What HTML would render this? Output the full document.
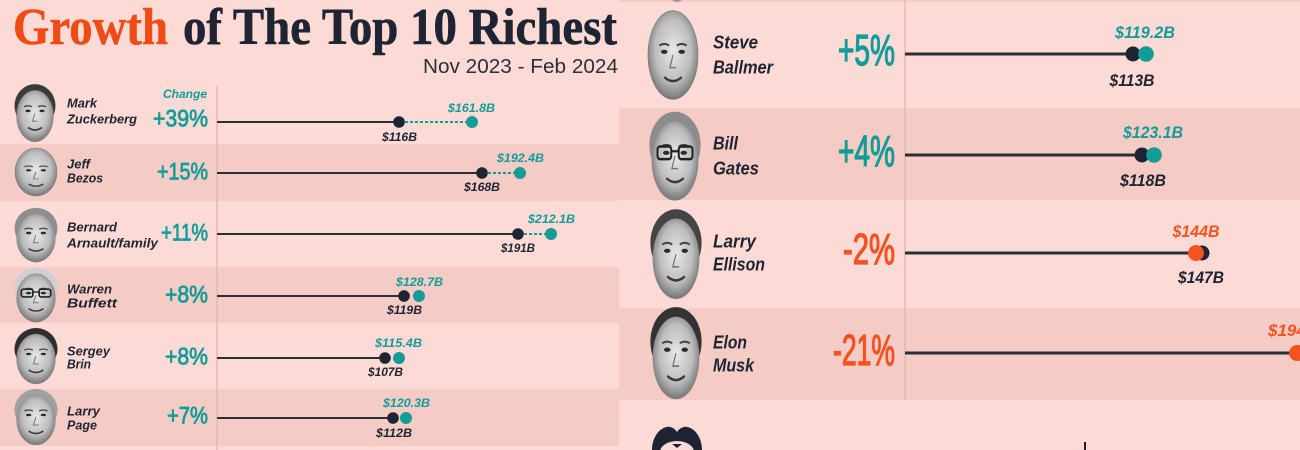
<!DOCTYPE html>
<html>
<head>
<meta charset="utf-8">
<style>
  html,body{margin:0;padding:0;background:#fcdad6;}
  body{width:1300px;height:450px;overflow:hidden;}
  svg{display:block;}
  .nm{font-family:"Liberation Sans",sans-serif;font-weight:bold;font-style:italic;fill:#1e2431;}
  .pc{font-family:"Liberation Sans Narrow","Liberation Sans",sans-serif;font-weight:normal;}
  .vl{font-family:"Liberation Sans",sans-serif;font-weight:bold;font-style:italic;}
</style>
</head>
<body>
<svg width="1300" height="450" viewBox="0 0 1300 450" xmlns="http://www.w3.org/2000/svg">
  <defs>
    <radialGradient id="fg" cx="50%" cy="45%" r="55%">
      <stop offset="0%" stop-color="#e8e8e8"/>
      <stop offset="65%" stop-color="#bdbdbd"/>
      <stop offset="100%" stop-color="#777"/>
    </radialGradient>
    <g id="feat">
      <path d="M-11,-6 Q-7,-8 -3,-6 M3,-6 Q7,-8 11,-6" stroke="#444" stroke-width="1.3" fill="none"/>
      <ellipse cx="-7" cy="-2" rx="2.6" ry="1.3" fill="#2a2a2a"/>
      <ellipse cx="7" cy="-2" rx="2.6" ry="1.3" fill="#2a2a2a"/>
      <path d="M0,0 L-2.5,8 L2.5,8" stroke="#777" stroke-width="1" fill="none"/>
      <path d="M-7,14 Q0,19 7,14" stroke="#3a3a3a" stroke-width="1.6" fill="none"/>
    </g>
    <g id="glasses">
      <rect x="-14" y="-6" width="11" height="8" rx="2" stroke="#222" stroke-width="1.6" fill="none"/>
      <rect x="3" y="-6" width="11" height="8" rx="2" stroke="#222" stroke-width="1.6" fill="none"/>
      <line x1="-3" y1="-3" x2="3" y2="-3" stroke="#222" stroke-width="1.4"/>
    </g>
    <ellipse id="bald" cx="0" cy="0" rx="20" ry="28" fill="url(#fg)" stroke="#777" stroke-width="0.5"/>
    <ellipse id="faceh" cx="0" cy="3" rx="18.5" ry="25" fill="url(#fg)" stroke="#888" stroke-width="0.4"/>
  </defs>

  <!-- ===== LEFT PANEL ===== -->
  <rect x="0" y="0" width="619" height="450" fill="#fcdad6"/>
  <rect x="0" y="144" width="619" height="57" fill="#f5cbc6"/>
  <rect x="0" y="267" width="619" height="56" fill="#f5cbc6"/>
  <rect x="0" y="389" width="619" height="57" fill="#f5cbc6"/>

  <!-- title -->
  <text x="13" y="44" font-family="'Liberation Serif',serif" font-weight="bold" font-size="52" fill="#ee4b17" stroke="#ee4b17" stroke-width="0.6" textLength="155" lengthAdjust="spacingAndGlyphs">Growth</text>
  <text x="183" y="44" font-family="'Liberation Serif',serif" font-weight="bold" font-size="52" fill="#1e2431" stroke="#1e2431" stroke-width="0.6" textLength="434" lengthAdjust="spacingAndGlyphs">of The Top 10 Richest</text>
  <text x="423" y="73" font-family="'Liberation Sans',sans-serif" font-size="20" fill="#2a2f3a" textLength="195" lengthAdjust="spacingAndGlyphs">Nov 2023 - Feb 2024</text>

  <!-- axis -->
  <line x1="217" y1="86" x2="217" y2="450" stroke="#e4bab5" stroke-width="1.5"/>

  <text x="207" y="98" class="vl" font-size="12" fill="#139c96" text-anchor="end" textLength="44" lengthAdjust="spacingAndGlyphs">Change</text>

  <!-- faces left -->
  <g transform="translate(35,113) scale(1,1.03)">
    <ellipse cx="0" cy="-7" rx="20.5" ry="21" fill="#3a3a3a"/>
    <use href="#faceh"/><use href="#feat"/>
  </g>
  <g transform="translate(36,172) scale(1.05,0.86)">
    <use href="#bald"/><use href="#feat"/>
  </g>
  <g transform="translate(36,235) scale(1.05,0.97)">
    <ellipse cx="0" cy="-7" rx="20.5" ry="21" fill="#8e8e8e"/>
    <use href="#faceh"/><use href="#feat"/>
  </g>
  <g transform="translate(36,295) scale(1.05,0.97)">
    <ellipse cx="0" cy="-7" rx="20.5" ry="21" fill="#d0d0d0"/>
    <use href="#faceh"/><use href="#feat"/><use href="#glasses"/>
  </g>
  <g transform="translate(36,356) scale(1.05,1)">
    <ellipse cx="0" cy="-7" rx="20.5" ry="21" fill="#2e2e2e"/>
    <use href="#faceh"/><use href="#feat"/>
  </g>
  <g transform="translate(36,417) scale(1.05,1)">
    <ellipse cx="0" cy="-7" rx="20.5" ry="21" fill="#a0a0a0"/>
    <use href="#faceh"/><use href="#feat"/>
  </g>

  <!-- names left -->
  <g class="nm" font-size="13">
    <text x="67" y="107.5" textLength="30" lengthAdjust="spacingAndGlyphs">Mark</text>
    <text x="67" y="123.5" textLength="70" lengthAdjust="spacingAndGlyphs">Zuckerberg</text>
    <text x="67" y="168.5" textLength="23" lengthAdjust="spacingAndGlyphs">Jeff</text>
    <text x="67" y="182.5" textLength="36" lengthAdjust="spacingAndGlyphs">Bezos</text>
    <text x="67" y="231.5" textLength="50" lengthAdjust="spacingAndGlyphs">Bernard</text>
    <text x="67" y="247.5" textLength="91" lengthAdjust="spacingAndGlyphs">Arnault/family</text>
    <text x="67" y="293.5" textLength="45" lengthAdjust="spacingAndGlyphs">Warren</text>
    <text x="67" y="307.5" textLength="50" lengthAdjust="spacingAndGlyphs">Buffett</text>
    <text x="67" y="355.5" textLength="43" lengthAdjust="spacingAndGlyphs">Sergey</text>
    <text x="67" y="368.5" textLength="24" lengthAdjust="spacingAndGlyphs">Brin</text>
    <text x="67" y="415.5" textLength="33" lengthAdjust="spacingAndGlyphs">Larry</text>
    <text x="67" y="429.5" textLength="30" lengthAdjust="spacingAndGlyphs">Page</text>
  </g>

  <!-- pct left -->
  <g class="pc" font-size="24" fill="#139c96" stroke="#139c96" stroke-width="0.8" text-anchor="end">
    <text x="208" y="126.5" textLength="55" lengthAdjust="spacingAndGlyphs">+39%</text>
    <text x="208" y="179.5" textLength="51" lengthAdjust="spacingAndGlyphs">+15%</text>
    <text x="208" y="240.5" textLength="47" lengthAdjust="spacingAndGlyphs">+11%</text>
    <text x="208" y="302.5" textLength="43" lengthAdjust="spacingAndGlyphs">+8%</text>
    <text x="208" y="364.5" textLength="43" lengthAdjust="spacingAndGlyphs">+8%</text>
    <text x="208" y="423.5" textLength="41" lengthAdjust="spacingAndGlyphs">+7%</text>
  </g>

  <!-- lines left -->
  <g stroke="#2b2e38" stroke-width="2">
    <line x1="217" y1="122" x2="399" y2="122"/>
    <line x1="217" y1="173" x2="482" y2="173"/>
    <line x1="217" y1="234" x2="518" y2="234"/>
    <line x1="217" y1="296" x2="404" y2="296"/>
    <line x1="217" y1="358" x2="385" y2="358"/>
    <line x1="217" y1="418" x2="393" y2="418"/>
  </g>
  <g stroke="#139c96" stroke-width="2" stroke-dasharray="3 2">
    <line x1="405" y1="122" x2="466" y2="122"/>
    <line x1="488" y1="173" x2="514" y2="173"/>
    <line x1="524" y1="234" x2="545" y2="234"/>
  </g>
  <g fill="#1e2431">
    <circle cx="399" cy="122" r="5.8"/>
    <circle cx="482" cy="173" r="5.8"/>
    <circle cx="518" cy="234" r="5.8"/>
    <circle cx="404" cy="296" r="5.8"/>
    <circle cx="385" cy="358" r="5.8"/>
    <circle cx="393" cy="418" r="5.8"/>
  </g>
  <g fill="#139c96">
    <circle cx="472" cy="122" r="6"/>
    <circle cx="520" cy="173" r="6"/>
    <circle cx="551" cy="234" r="6"/>
    <circle cx="419" cy="296" r="6"/>
    <circle cx="399" cy="358" r="6"/>
    <circle cx="406" cy="418" r="6"/>
  </g>
  <g class="vl" font-size="12" text-anchor="middle" fill="#139c96">
    <text x="471.5" y="112" textLength="47" lengthAdjust="spacingAndGlyphs">$161.8B</text>
    <text x="520.5" y="162" textLength="47" lengthAdjust="spacingAndGlyphs">$192.4B</text>
    <text x="551.5" y="223" textLength="47" lengthAdjust="spacingAndGlyphs">$212.1B</text>
    <text x="419.5" y="286" textLength="47" lengthAdjust="spacingAndGlyphs">$128.7B</text>
    <text x="398.5" y="347" textLength="47" lengthAdjust="spacingAndGlyphs">$115.4B</text>
    <text x="406.5" y="407" textLength="47" lengthAdjust="spacingAndGlyphs">$120.3B</text>
  </g>
  <g class="vl" font-size="12" text-anchor="middle" fill="#1e2431">
    <text x="399.5" y="141" textLength="35" lengthAdjust="spacingAndGlyphs">$116B</text>
    <text x="482" y="191" textLength="36" lengthAdjust="spacingAndGlyphs">$168B</text>
    <text x="518" y="252" textLength="34" lengthAdjust="spacingAndGlyphs">$191B</text>
    <text x="404.5" y="314" textLength="35" lengthAdjust="spacingAndGlyphs">$119B</text>
    <text x="385.5" y="376" textLength="35" lengthAdjust="spacingAndGlyphs">$107B</text>
    <text x="394" y="437" textLength="36" lengthAdjust="spacingAndGlyphs">$112B</text>
  </g>

  <!-- ===== RIGHT PANEL ===== -->
  <rect x="619" y="0" width="681" height="450" fill="#fcdad6"/>
  <rect x="619" y="0" width="681" height="2" fill="#f5cbc6"/>
  <rect x="619" y="108" width="681" height="92" fill="#f5cbc6"/>
  <rect x="619" y="308" width="681" height="92" fill="#f5cbc6"/>
  <ellipse cx="677" cy="-8" rx="8" ry="10" fill="#9a9a9a"/>

  <line x1="905" y1="0" x2="905" y2="400" stroke="#e4bab5" stroke-width="1.5"/>

  <!-- faces right -->
  <g transform="translate(673,55) scale(1.25,1.58)">
    <use href="#bald"/><use href="#feat"/>
  </g>
  <g transform="translate(675,156) scale(1.25,1.58)">
    <ellipse cx="0" cy="-7" rx="20.5" ry="21" fill="#8c8c8c"/>
    <use href="#faceh"/><use href="#feat"/><use href="#glasses"/>
  </g>
  <g transform="translate(676,254) scale(1.25,1.6)">
    <ellipse cx="0" cy="-7" rx="20.5" ry="21" fill="#444"/>
    <use href="#faceh"/><use href="#feat"/>
  </g>
  <g transform="translate(676,353) scale(1.25,1.64)">
    <ellipse cx="0" cy="-7" rx="20.5" ry="21" fill="#333"/>
    <use href="#faceh"/><use href="#feat"/>
  </g>

  <!-- names right -->
  <g class="nm" font-size="18">
    <text x="713" y="48.5" textLength="45" lengthAdjust="spacingAndGlyphs">Steve</text>
    <text x="713" y="73.5" textLength="60" lengthAdjust="spacingAndGlyphs">Ballmer</text>
    <text x="713" y="149.5" textLength="25" lengthAdjust="spacingAndGlyphs">Bill</text>
    <text x="713" y="174.5" textLength="46" lengthAdjust="spacingAndGlyphs">Gates</text>
    <text x="713" y="247.5" textLength="43" lengthAdjust="spacingAndGlyphs">Larry</text>
    <text x="713" y="270.5" textLength="52" lengthAdjust="spacingAndGlyphs">Ellison</text>
    <text x="713" y="348.5" textLength="34" lengthAdjust="spacingAndGlyphs">Elon</text>
    <text x="713" y="371.5" textLength="41" lengthAdjust="spacingAndGlyphs">Musk</text>
  </g>

  <!-- pct right -->
  <g class="pc" font-size="44" text-anchor="end" stroke-width="1.3">
    <text x="895" y="65" fill="#139c96" stroke="#139c96" textLength="57" lengthAdjust="spacingAndGlyphs">+5%</text>
    <text x="895" y="166" fill="#139c96" stroke="#139c96" textLength="57" lengthAdjust="spacingAndGlyphs">+4%</text>
    <text x="895" y="264" fill="#f2531f" stroke="#f2531f" textLength="52" lengthAdjust="spacingAndGlyphs">-2%</text>
    <text x="895" y="365" fill="#f2531f" stroke="#f2531f" textLength="62" lengthAdjust="spacingAndGlyphs">-21%</text>
  </g>

  <!-- lines right -->
  <g stroke="#2b2e38" stroke-width="3">
    <line x1="905" y1="54" x2="1133" y2="54"/>
    <line x1="905" y1="155" x2="1142" y2="155"/>
    <line x1="905" y1="253" x2="1202" y2="253"/>
    <line x1="905" y1="353" x2="1300" y2="353"/>
  </g>
  <circle cx="1133" cy="54" r="7.5" fill="#1e2431"/>
  <circle cx="1146" cy="54" r="7.8" fill="#139c96"/>
  <circle cx="1142" cy="155" r="7.5" fill="#1e2431"/>
  <circle cx="1154" cy="155" r="7.8" fill="#139c96"/>
  <circle cx="1202" cy="253" r="7.5" fill="#1e2431"/>
  <circle cx="1196" cy="253" r="8" fill="#f2531f"/>
  <circle cx="1297" cy="353" r="8" fill="#f2531f"/>

  <g class="vl" font-size="17" text-anchor="middle">
    <text x="1145" y="38" fill="#139c96" textLength="60" lengthAdjust="spacingAndGlyphs">$119.2B</text>
    <text x="1132" y="86" fill="#1e2431" textLength="45" lengthAdjust="spacingAndGlyphs">$113B</text>
    <text x="1153" y="138" fill="#139c96" textLength="60" lengthAdjust="spacingAndGlyphs">$123.1B</text>
    <text x="1143" y="186" fill="#1e2431" textLength="46" lengthAdjust="spacingAndGlyphs">$118B</text>
    <text x="1196" y="237" fill="#f2531f" textLength="47" lengthAdjust="spacingAndGlyphs">$144B</text>
    <text x="1201" y="283" fill="#1e2431" textLength="46" lengthAdjust="spacingAndGlyphs">$147B</text>
  </g>
  <text x="1268" y="336" class="vl" font-size="17" fill="#f2531f">$194B</text>

  <!-- bottom right partial content -->
  <path d="M652,450 C652,438 659,428 667,427 C671,426 675,429 677,432 C679,429 683,426 687,427 C695,428 702,438 702,450 Z" fill="#1e2431"/>
  <ellipse cx="677" cy="452" rx="17" ry="11" fill="#fcdad6"/>
  <path d="M672,444 L677,448 L682,444 Z" fill="#1e2431"/>
  <line x1="1085" y1="442" x2="1085" y2="450" stroke="#1e2431" stroke-width="2"/>
</svg>
</body>
</html>
